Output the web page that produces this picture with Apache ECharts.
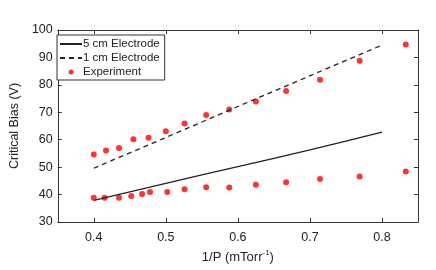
<!DOCTYPE html>
<html><head><meta charset="utf-8">
<script src="https://cdn.jsdelivr.net/npm/echarts@6/dist/echarts.min.js"></script>
<style>html,body{margin:0;padding:0;background:#fff}#c{width:436px;height:270px}</style>
</head><body><div id="c"></div>
<script>
var xTicks = [0.4, 0.5, 0.6, 0.7, 0.8];
var line5cmX = [0.4, 0.45, 0.5, 0.55, 0.6, 0.65, 0.7, 0.75, 0.8];
var line5cmY = [37.9, 41.0, 44.1, 47.2, 50.2, 53.2, 56.3, 59.5, 62.8];
var line1cmX = [0.4, 0.5, 0.6, 0.7, 0.8];
var line1cmY = [49.6, 60.8, 72.1, 83.3, 94.5];
var expX = [0.4, 0.417, 0.435, 0.455, 0.476, 0.5, 0.526, 0.556, 0.588, 0.625, 0.667, 0.714, 0.769, 0.833];
var expUpper = [54.6, 56.1, 57.0, 60.2, 60.7, 63.1, 65.9, 69.0, 71.0, 73.9, 77.8, 81.9, 88.8, 94.7];
var expLowerX = [0.4, 0.415, 0.435, 0.452, 0.467, 0.478, 0.502, 0.526, 0.556, 0.588, 0.625, 0.667, 0.714, 0.769, 0.833];
var expLower = [38.8, 38.8, 38.8, 39.5, 40.2, 40.9, 40.9, 41.9, 42.7, 42.6, 43.6, 44.5, 45.7, 46.6, 48.4];

function zip(a, b) { return a.map(function (v, i) { return [v, b[i]]; }); }
var expData = zip(expX, expUpper).concat(zip(expLowerX, expLower));

var font = 'Arial, "Liberation Sans", sans-serif';
var chart = echarts.init(document.getElementById('c'));
var axisLine = { show: true, onZero: false, lineStyle: { color: '#333', width: 1 } };
var tickStyle = { show: true, inside: true, length: 4, lineStyle: { color: '#333' } };
chart.setOption({
  animation: false,
  grid: { left: 53, right: 18, top: 30, bottom: 48, containLabel: false },
  legend: {
    orient: 'vertical', left: 57, top: 35,
    backgroundColor: '#fff', borderColor: '#333', borderWidth: 1,
    padding: [3, 5, 2, 2], itemGap: 2, itemWidth: 22, itemHeight: 5,
    textStyle: { fontFamily: font, fontSize: 11.5, color: '#222', padding: [0, 0, 0, -4] },
    data: [
      { name: '5 cm Electrode', itemStyle: { opacity: 0 } },
      { name: '1 cm Electrode', itemStyle: { opacity: 0 } },
      { name: 'Experiment', icon: 'circle' }
    ]
  },
  xAxis: [{
    type: 'value', min: 0.35, max: 0.85,
    name: '1/P (mTorr{sup|-1})', nameLocation: 'middle', nameGap: 27,
    nameTextStyle: { fontFamily: font, fontSize: 13, color: '#222',
      rich: { sup: { fontFamily: font, fontSize: 8, color: '#222', verticalAlign: 'top', padding: [0, 0, 8, 0] } } },
    axisLine: axisLine, splitLine: { show: false },
    axisTick: Object.assign({ customValues: xTicks }, tickStyle),
    axisLabel: { customValues: xTicks, fontFamily: font, fontSize: 12.5, color: '#222', margin: 9,
      formatter: function (v) { return v.toFixed(1); } }
  }, {
    type: 'value', min: 0.35, max: 0.85, position: 'top',
    axisLine: axisLine, splitLine: { show: false },
    axisTick: Object.assign({ customValues: xTicks }, tickStyle),
    axisLabel: { show: false }
  }],
  yAxis: [{
    type: 'value', min: 30, max: 100, interval: 10,
    name: 'Critical Bias (V)', nameLocation: 'middle', nameGap: 27,
    nameTextStyle: { fontFamily: font, fontSize: 12.5, color: '#222' },
    axisLine: axisLine, splitLine: { show: false }, axisTick: tickStyle,
    axisLabel: { fontFamily: font, fontSize: 12.5, color: '#222', margin: 5 }
  }, {
    type: 'value', min: 30, max: 100, interval: 10, position: 'right',
    axisLine: axisLine, splitLine: { show: false }, axisTick: tickStyle,
    axisLabel: { show: false }
  }],
  series: [{
    name: '5 cm Electrode', type: 'line', symbol: 'none',
    data: zip(line5cmX, line5cmY),
    itemStyle: { color: '#222' },
    lineStyle: { color: '#222', width: 1.3, type: 'solid' }
  }, {
    name: '1 cm Electrode', type: 'line', symbol: 'none',
    data: zip(line1cmX, line1cmY),
    itemStyle: { color: '#222' },
    lineStyle: { color: '#222', width: 1.3, type: [5, 4] }
  }, {
    name: 'Experiment', type: 'scatter', symbol: 'circle', symbolSize: 6,
    data: expData,
    itemStyle: { color: '#ff0000' }
  }]
});
</script></body></html>
